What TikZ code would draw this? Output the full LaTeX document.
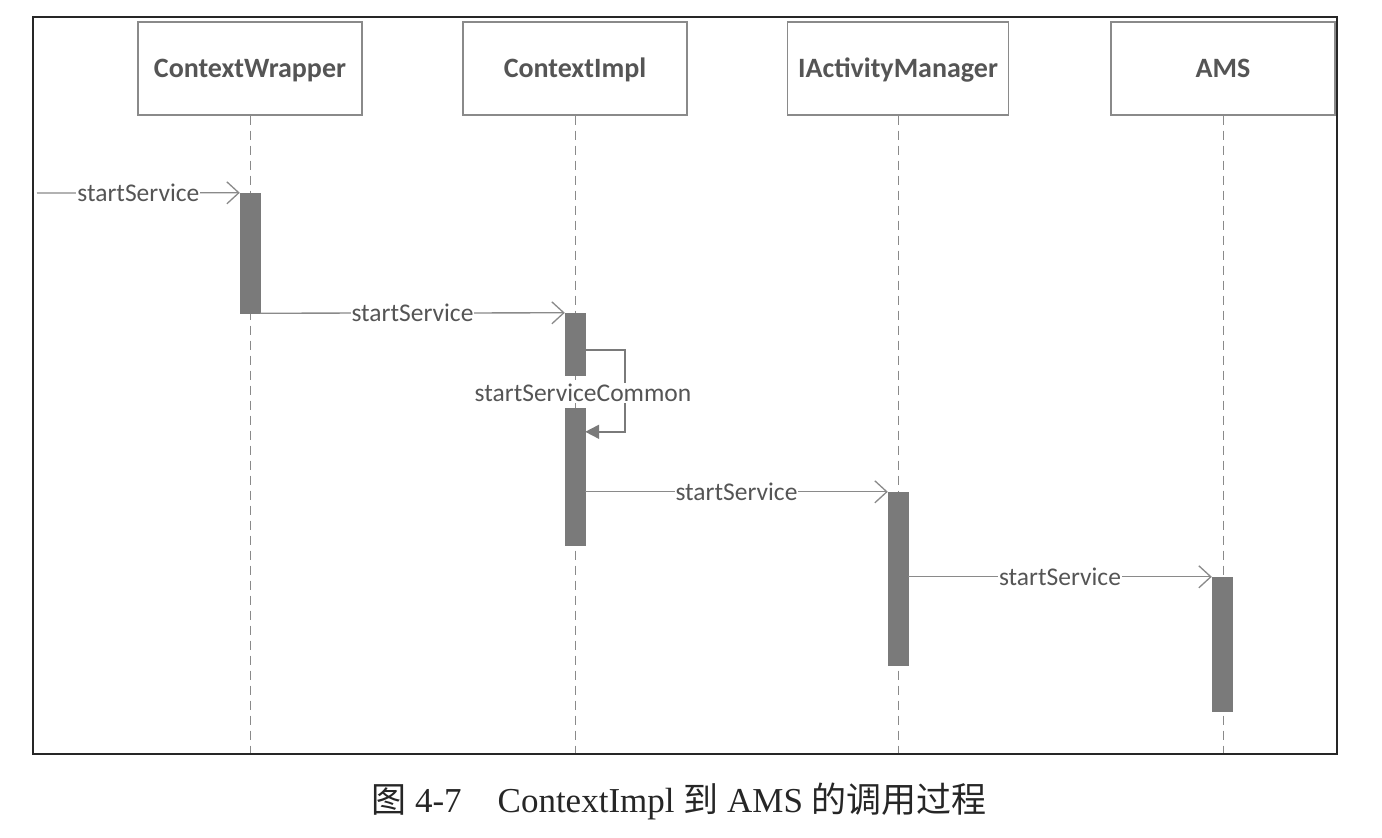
\documentclass[tikz,border=0pt]{standalone}
\usepackage{fontspec}
\setmainfont{Liberation Serif}
\newfontfamily\lab{Carlito}
\newfontfamily\cjk{Noto Sans CJK SC}
\usetikzlibrary{arrows.meta}
\definecolor{linegray}{HTML}{8A8A8A}
\definecolor{bargray}{HTML}{7A7A7A}
\definecolor{txtgray}{HTML}{555555}
\tikzset{
  lifebox/.style={draw=linegray, line width=1.2pt, fill=white, minimum width=224pt, minimum height=93pt, inner sep=0pt,
    text height=25pt, text depth=7pt,
    font=\lab\bfseries\fontsize{28}{32}\selectfont, text=txtgray},
  lifeline/.style={draw=linegray, line width=1pt, dash pattern=on 9pt off 6pt},
  actbar/.style={draw=bargray, fill=bargray, minimum width=20pt, inner sep=0pt},
  msg/.style={draw=linegray, line width=1.3pt, -{Straight Barb[length=12pt,width=22pt,line width=1.3pt]}},
  selfmsg/.style={draw=linegray, line width=1.8pt, -{Triangle[length=14pt,width=14pt]}, color=bargray},
  msglabel/.style={fill=white, inner sep=1pt, font=\lab\fontsize{25.5}{30}\selectfont, text=txtgray},
}
\begin{document}
\begin{tikzpicture}[x=1pt, y=-1pt]
\useasboundingbox (0,0) rectangle (1382,838);
\fill[white] (0,0) rectangle (1382,838);
% lifeline heads
\node[lifebox] (cw)  at (250,68.5)  {ContextWrapper};
\node[lifebox] (ci)  at (575,68.5)  {ContextImpl};
\node[lifebox, minimum width=221pt] (iam) at (898,68.5) {IActivityManager};
\node[lifebox] (ams) at (1223,68.5) {AMS};
% lifeline ends
\coordinate (cwe)  at (250,754);
\coordinate (cie)  at (575,754);
\coordinate (iame) at (898,754);
\coordinate (amse) at (1223,754);
\draw[lifeline] (cw.south) -- (cwe);
\draw[lifeline] (ci.south) -- (cie);
\draw[lifeline] (iam.south) -- (iame);
\draw[lifeline] (ams.south) -- (amse);
% activation bars
\node[actbar, minimum height=120pt] (b1)  at (250,253)   {};
\node[actbar, minimum height=62pt]  (b2a) at (575,344)   {};
\node[actbar, minimum height=137pt] (b2b) at (575,476.5) {};
\node[actbar, minimum height=173pt] (b3)  at (898,578.5) {};
\node[actbar, minimum height=134pt] (b4)  at (1222,644)  {};
% messages
\coordinate (start) at (37,193);
\draw[msg] (start) -- node[msglabel]{startService} (b1.north west);
\draw[msg] (b1.south east) -- node[msglabel]{startService} (b2a.north west);
\draw[selfmsg] ([yshift=-37pt]b2a.north east) -- ++(40,0) |- ([yshift=-24pt]b2b.north east);
\node[msglabel] (sc) at (583,393) {startServiceCommon};
\draw[msg] (b2b.east |- b3.north west) -- node[msglabel]{startService} (b3.north west);
\draw[msg] (b3.east |- b4.north west) -- node[msglabel]{startService} (b4.north west);
% frame
\draw[line width=2pt, color=black!85] (33,17) rectangle (1337,754);
% caption
\node[font=\fontsize{35}{41}\selectfont, text=black!85] (cap) at (679,801) {{\cjk 图}~4-7\hspace{36pt}ContextImpl~{\cjk 到}~AMS~{\cjk 的调用过程}};
\end{tikzpicture}
\end{document}
